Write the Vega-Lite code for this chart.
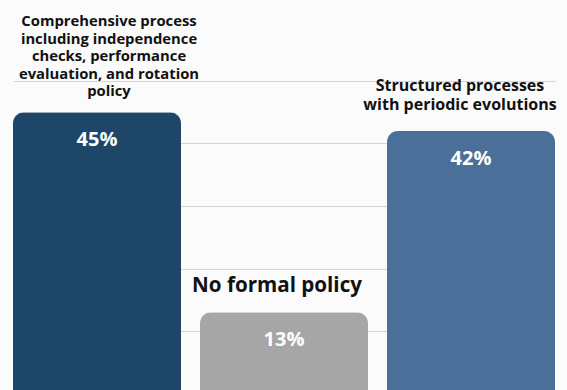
{
  "$schema": "https://vega.github.io/schema/vega-lite/v6.json",
  "width": 542,
  "height": 309,
  "autosize": {"type": "none"},
  "padding": {"left": 13, "top": 81, "right": 12, "bottom": 0},
  "background": "#fbfbfb",
  "config": {"view": {"stroke": null}, "font": "Open Sans"},
  "data": {
    "values": [
      {"category": "Comprehensive", "label": "Comprehensive process\nincluding independence\nchecks, performance\nevaluation, and rotation\npolicy", "value": 0.45},
      {"category": "None", "label": "No formal policy", "value": 0.13},
      {"category": "Structured", "label": "Structured processes\nwith periodic evolutions", "value": 0.42}
    ]
  },
  "encoding": {
    "x": {
      "field": "category",
      "type": "nominal",
      "sort": ["Comprehensive", "None", "Structured"],
      "scale": {"paddingInner": 0.1016, "paddingOuter": 0},
      "axis": null
    },
    "y": {
      "field": "value",
      "type": "quantitative",
      "scale": {"domain": [0, 0.5], "range": [312.5, 0], "nice": false},
      "axis": {
        "values": [0.1, 0.2, 0.3, 0.4, 0.5],
        "grid": true,
        "gridColor": "#d4d4d4",
        "gridWidth": 1,
        "domain": false,
        "ticks": false,
        "labels": false,
        "title": null
      }
    }
  },
  "layer": [
    {
      "mark": {"type": "bar", "cornerRadiusTopLeft": 11, "cornerRadiusTopRight": 11},
      "encoding": {
        "color": {
          "field": "category",
          "type": "nominal",
          "scale": {"domain": ["Comprehensive", "None", "Structured"], "range": ["#1e4669", "#a6a6a6", "#4a6f98"]},
          "legend": null
        }
      }
    },
    {
      "mark": {"type": "text", "color": "#ffffff", "fontWeight": "bold", "fontSize": 20, "baseline": "alphabetic", "align": "center", "dy": 34},
      "encoding": {"text": {"field": "value", "type": "quantitative", "format": ".0%"}}
    },
    {
      "transform": [{"filter": "datum.category === 'Comprehensive'"}],
      "mark": {"type": "text", "color": "#111111", "fontWeight": "bold", "fontSize": 14.8, "lineHeight": 17.5, "lineBreak": "\n", "baseline": "alphabetic", "align": "center", "dx": 12, "dy": -86},
      "encoding": {"text": {"field": "label"}}
    },
    {
      "transform": [{"filter": "datum.category === 'None'"}],
      "mark": {"type": "text", "color": "#111111", "fontWeight": "bold", "fontSize": 20.6, "baseline": "alphabetic", "align": "center", "dx": -7, "dy": -20},
      "encoding": {"text": {"field": "label"}}
    },
    {
      "transform": [{"filter": "datum.category === 'Structured'"}],
      "mark": {"type": "text", "color": "#111111", "fontWeight": "bold", "fontSize": 16, "lineHeight": 19.3, "lineBreak": "\n", "baseline": "alphabetic", "align": "center", "dx": -11, "dy": -40},
      "encoding": {"text": {"field": "label"}}
    }
  ]
}
